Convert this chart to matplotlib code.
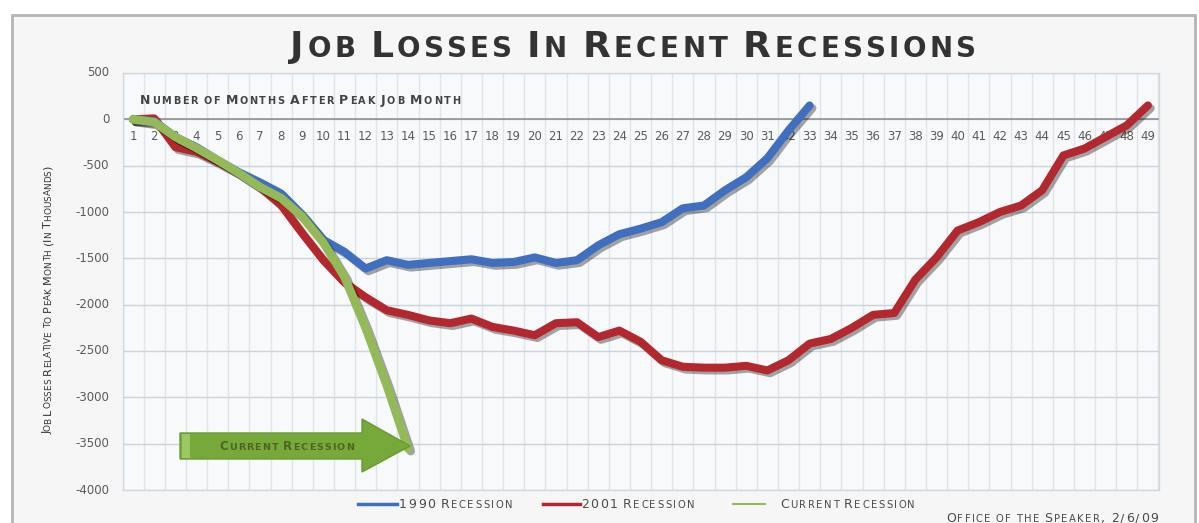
import numpy as np
import matplotlib
matplotlib.use("Agg")
from matplotlib import pyplot as plt
from matplotlib import patheffects as pe
from matplotlib.patches import Rectangle, Polygon
from matplotlib.lines import Line2D

# cumulative job losses (thousands) by month after the peak job month
months = list(range(1, 50))
jobs_1990 = [0, -20, -190, -300, -440, -570, -680, -800, -1030, -1300,
             -1430, -1610, -1520, -1570, -1550, -1530, -1510, -1550, -1540, -1490,
             -1550, -1520, -1360, -1240, -1180, -1110, -960, -930, -765, -625,
             -420, -120, 150]
jobs_2001 = [0, 10, -300, -350, -460, -580, -730, -925, -1230, -1520,
             -1760, -1920, -2060, -2110, -2170, -2200, -2150, -2240, -2280, -2330,
             -2200, -2190, -2350, -2280, -2400, -2600, -2670, -2680, -2680, -2660,
             -2710, -2600, -2420, -2370, -2250, -2110, -2090, -1730, -1490, -1200,
             -1110, -1000, -930, -765, -390, -315, -190, -65, 150]
jobs_current = [0, -30, -190, -310, -440, -580, -730, -850, -1050, -1330,
                -1700, -2250, -2870, -3550]
y_ticks = [500, 0, -500, -1000, -1500, -2000, -2500, -3000, -3500, -4000]

BLUE = "#3f6fbe"
RED = "#b3282e"
GREEN = "#93b958"
W, H = 1199, 523

plt.rcParams["font.family"] = ["DejaVu Sans"]
fig = plt.figure(figsize=(W / 100, H / 100), dpi=100, facecolor="white")

# outer frame
fig.patches.append(Rectangle((12 / W, -0.01), 1183 / W, (H - 15) / H + 0.01,
                             transform=fig.transFigure, facecolor="#f6f6f6",
                             edgecolor="#b4b4b4", lw=2, zorder=-5))

ax = fig.add_axes([122.5 / W, 1 - 490 / H, 1036 / W, 417 / H])
ax.set_facecolor("#f8f9fa")
ax.set_xlim(0.5, 49.5)
ax.set_ylim(-4000, 500)
for s in ax.spines.values():
    s.set_color("#d0d8e0")
    s.set_linewidth(1)
ax.set_xticks([])
ax.set_yticks([])

# grid
for b in np.arange(0.5, 50, 1):
    ax.axvline(b, color="#dfe4ea", lw=1, zorder=1)
for v in y_ticks:
    ax.axhline(v, color="#c9d4dd", lw=1, zorder=1)
ax.axhline(0, color="#8a8a8a", lw=1.1, zorder=2)

# y tick labels
for v in y_ticks:
    ax.annotate(str(v), (0.5, v), xytext=(-9.5, 0), textcoords="offset points",
                ha="right", va="center", fontsize=8.5, color="#5a5a5a")
# month labels along the zero line
for m in months:
    ax.annotate(str(m), (m, 0), xytext=(0, -8), textcoords="offset points",
                ha="center", va="top", fontsize=8.5, color="#5a5a5a", zorder=3)

shadow = [pe.SimpleLineShadow(offset=(2, -2), shadow_color="black", alpha=0.35),
          pe.Normal()]
ax.plot(months[:len(jobs_2001)], jobs_2001, color=RED, lw=5.8,
        solid_capstyle="round", solid_joinstyle="round", path_effects=shadow, zorder=4)
ax.plot(months[:len(jobs_1990)], jobs_1990, color=BLUE, lw=5.8,
        solid_capstyle="round", solid_joinstyle="round", path_effects=shadow, zorder=5)
ax.plot(months[:len(jobs_current)], jobs_current, color=GREEN, lw=6.2,
        solid_capstyle="round", solid_joinstyle="round", path_effects=shadow, zorder=6)

renderer = fig.canvas.get_renderer()


def text_width(s, size, **kw):
    if not s:
        return 0.0
    t = fig.text(0, 0, s, fontsize=size, **kw)
    w = t.get_window_extent(renderer).width
    t.remove()
    return w


def smallcaps(x, y, s, big, small, width=None, rot=0, ha="left", max_track=2.0, **kw):
    # x, y in pixels from the top-left corner; width spreads the letters a little
    y = H - y
    runs = []
    for ch in s:
        size = small if ch.islower() else big
        if runs and runs[-1][1] == size and ch != " " and runs[-1][0][-1:] != " ":
            runs[-1][0] += ch.upper()
        else:
            runs.append([ch.upper(), size])
    layout = []
    pos = 0.0
    n = 0
    for txt, size in runs:
        if txt == " ":
            pos += size * 0.32 * 100 / 72
            continue
        for k, ch in enumerate(txt):
            layout.append((ch, size, pos + text_width(txt[:k], size, **kw), n))
            n += 1
        pos += text_width(txt, size, **kw)
    natural = pos
    track = 0.0 if width is None else (width - natural) / max(n - 1, 1)
    track = min(max(track, 0.0), max_track)
    total = natural + track * (n - 1)
    start = -{"left": 0, "center": total / 2, "right": total}[ha]
    c, sn = np.cos(np.radians(rot)), np.sin(np.radians(rot))
    for ch, size, off, idx in layout:
        p = start + off + track * idx
        fig.text((x + p * c) / W, (y + p * sn) / H, ch, fontsize=size,
                 rotation=rot, rotation_mode="anchor", ha="left", va="baseline", **kw)


smallcaps(633, 57, "Job Losses In Recent Recessions", 26, 20, width=687, ha="center",
          max_track=3.5, weight="bold", color="#333333")
smallcaps(140, 104, "Number of Months After Peak Job Month", 9, 7, width=320,
          weight="bold", color="#444444")
smallcaps(51, 300, "Job Losses Relative to Peak Month (In Thousands)", 8, 6.4, width=230,
          rot=90, ha="center", color="#333333")

# arrow pointing at the latest month
arrow = [(180, 433), (362, 433), (362, 419), (410, 446), (362, 472), (362, 459), (180, 459)]
fig.patches.append(Polygon([(px / W, 1 - py / H) for px, py in arrow], closed=True,
                           transform=fig.transFigure, facecolor="#76a83a",
                           edgecolor="#6a9a30", lw=1, zorder=5))
fig.patches.append(Rectangle((182 / W, 1 - 458 / H), 8 / W, 24 / H, transform=fig.transFigure,
                             facecolor="#9cc863", edgecolor="none", zorder=6))
smallcaps(219, 450, "Current Recession", 8.5, 6.8, width=135, weight="bold",
          color="#4f6424", zorder=7)

# legend
legend_items = [(358, 397, BLUE, 399, "1990 Recession", 2.5),
                (543, 580, RED, 581, "2001 Recession", 2.5),
                (733, 765, GREEN, 780, "Current Recession", 1.5)]
for x0, x1, col, tx, label, lw in legend_items:
    fig.add_artist(Line2D([x0 / W, x1 / W], [1 - 504 / H] * 2, color=col, lw=lw,
                          transform=fig.transFigure))
    tw = 113 if label[0].isdigit() else 135
    smallcaps(tx, 508, label, 9, 7.2, width=tw, color="#4a4a4a")

smallcaps(1158, 522, "Office of the Speaker, 2/6/09", 9, 7.2, width=212, ha="right",
          color="#4a4a4a")

fig.savefig("out.png", dpi=100)
